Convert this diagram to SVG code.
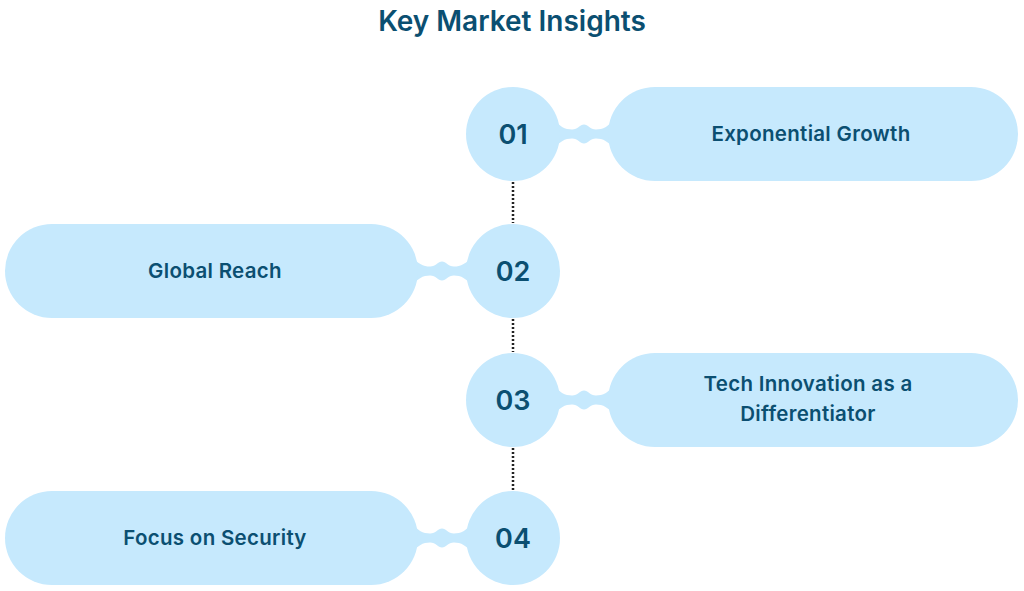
<svg xmlns="http://www.w3.org/2000/svg" width="1024" height="591" viewBox="0 0 1024 591">
<style>
.shape{fill:#C6E9FD}
.t{font-family:Inter,"Liberation Sans",sans-serif;fill:#0B4F71;font-weight:600;text-anchor:middle}
.num{font-size:27px}
.lbl{font-size:20.5px;letter-spacing:0.3px}
.dots{stroke:#222;stroke-width:2.5;stroke-dasharray:2 2;fill:none}
</style>
<defs>
<path id="neck" d="M-8 -18 C2 -7 7 -4.5 14 -4.5 C20 -4.5 22 -9.5 26 -9.5 C30 -9.5 32 -4.5 38 -4.5 C45 -4.5 50 -7 60 -18 L60 18 C50 7 45 4.5 38 4.5 C32 4.5 30 9.5 26 9.5 C22 9.5 20 4.5 14 4.5 C7 4.5 2 7 -8 18 Z"/>
</defs>
<rect width="1024" height="591" fill="#fff"/>
<text class="t" x="512" y="31" font-size="28">Key Market Insights</text>
<g id="connectors">
<line class="dots" x1="513" y1="182" x2="513" y2="223"/>
<line class="dots" x1="513" y1="319" x2="513" y2="352"/>
<line class="dots" x1="513" y1="448" x2="513" y2="490"/>
<use href="#neck" class="shape" transform="translate(558,134)"/>
<use href="#neck" class="shape" transform="translate(468,271) scale(-1,1)"/>
<use href="#neck" class="shape" transform="translate(558,400)"/>
<use href="#neck" class="shape" transform="translate(468,538) scale(-1,1)"/>
</g>
<g id="node1">
<circle class="shape" cx="513" cy="134" r="47"/>
<text class="t num" x="513" y="144">01</text>
<rect class="shape" x="608" y="87" width="410" height="94" rx="47"/>
<text class="t lbl" x="811" y="141">Exponential Growth</text>
</g>
<g id="node2">
<circle class="shape" cx="513" cy="271" r="47"/>
<text class="t num" x="513" y="281">02</text>
<rect class="shape" x="5" y="224" width="413" height="94" rx="47"/>
<text class="t lbl" x="215" y="278">Global Reach</text>
</g>
<g id="node3">
<circle class="shape" cx="513" cy="400" r="47"/>
<text class="t num" x="513" y="410">03</text>
<rect class="shape" x="608" y="353" width="410" height="94" rx="47"/>
<text class="t lbl" x="808" y="391">Tech Innovation as a</text>
<text class="t lbl" x="808" y="421">Differentiator</text>
</g>
<g id="node4">
<circle class="shape" cx="513" cy="538" r="47"/>
<text class="t num" x="513" y="548">04</text>
<rect class="shape" x="5" y="491" width="413" height="94" rx="47"/>
<text class="t lbl" x="215" y="545">Focus on Security</text>
</g>
</svg>
